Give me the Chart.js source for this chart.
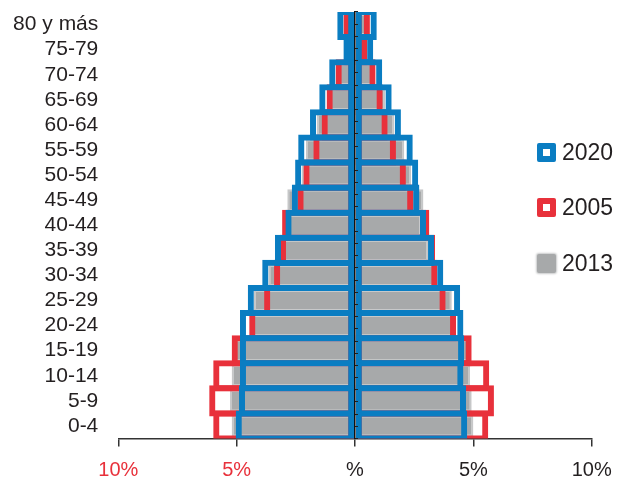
<!DOCTYPE html>
<html>
<head>
<meta charset="utf-8">
<script src="https://cdn.jsdelivr.net/npm/chart.js@4.4.1/dist/chart.umd.min.js"></script>
<style>
  body { margin: 0; background: #fff; }
  #wrap { position: relative; width: 629px; height: 483px; }
  .key { position: absolute; left: 537px; font: 23px "Liberation Sans", Arial, sans-serif; color: #231f20; }
  .key span { position: absolute; left: 0; width: 19px; height: 19px; box-sizing: border-box; border-radius: 2px; }
  .key b { position: absolute; left: 25px; top: -2px; font-weight: normal; line-height: 23px; }
</style>
</head>
<body>
<div id="wrap">
  <canvas id="chart"></canvas>
  <div class="key" style="top:143px"><span style="border:6px solid #0a7dc2;background:#fff"></span><b>2020</b></div>
  <div class="key" style="top:198px"><span style="border:6px solid #e8313b;background:#fff"></span><b>2005</b></div>
  <div class="key" style="top:254px"><span style="background:#a7a9aa;box-shadow:0 0 2px 1px #c8c9ca"></span><b>2013</b></div>
</div>
<script>
// age groups, top to bottom
const ages = ["80 y más", "75-79", "70-74", "65-69", "60-64", "55-59", "50-54", "45-49",
  "40-44", "35-39", "30-34", "25-29", "20-24", "15-19", "10-14", "5-9", "0-4"];

// % of population, left and right half of the pyramid
const left2020 = [0.75, 0.49, 1.09, 1.51, 1.90, 2.40, 2.53, 2.67, 2.94, 3.38, 3.92, 4.53, 4.86, 4.86, 4.86, 4.90, 5.04];
const right2020 = [0.92, 0.77, 1.15, 1.55, 1.94, 2.44, 2.67, 2.72, 3.00, 3.34, 3.73, 4.44, 4.58, 4.61, 4.58, 4.69, 4.74];
const left2005 = [0.49, 0.42, 0.82, 1.20, 1.41, 1.76, 2.18, 2.43, 3.08, 3.17, 3.42, 3.84, 4.47, 5.21, 5.99, 6.16, 5.99];
const right2005 = [0.63, 0.52, 0.87, 1.17, 1.38, 1.73, 2.15, 2.46, 3.14, 3.38, 3.48, 3.83, 4.27, 4.93, 5.67, 5.87, 5.63];
const left2013 = [0.39, 0.42, 0.72, 1.15, 1.62, 2.07, 2.24, 2.86, 2.85, 3.05, 3.66, 4.27, 4.40, 5.10, 5.21, 5.28, 5.21];
const right2013 = [0.50, 0.47, 0.76, 1.27, 1.66, 2.08, 2.37, 2.89, 2.80, 3.10, 3.45, 4.09, 4.20, 4.85, 4.86, 4.93, 5.00];

const xTickValues = [-10, -5, 0, 5, 10];
const xTickLabels = ["10%", "5%", "%", "5%", "10%"];

const blue = "#0a7dc2";
const red = "#e8313b";
const gray = "#a7a9aa";
const font = "'Liberation Sans', Arial, sans-serif";

const outline = (data, color) => ({
  data,
  backgroundColor: "rgba(0,0,0,0)",
  borderColor: color,
  borderWidth: 6,
  borderSkipped: false,
  barPercentage: 1.24,
  categoryPercentage: 1,
  grouped: false,
});
const filled = (data) => ({
  data,
  backgroundColor: gray,
  borderColor: "#c6c7c8",
  borderWidth: 2,
  borderSkipped: false,
  barPercentage: 0.86,
  categoryPercentage: 1,
  grouped: false,
});

// first dataset is drawn on top
const datasets = [
  outline(left2020.map(v => -v), blue),
  outline(right2020, blue),
  outline(left2005.map(v => -v), red),
  outline(right2005, red),
  filled(left2013.map(v => -v)),
  filled(right2013),
];

// keep the plot box where the reference has it
const noPad = s => { s.paddingTop = 0; s.paddingBottom = 0; s.paddingLeft = 0; s.paddingRight = 0; };

new Chart(document.getElementById("chart"), {
  type: "bar",
  data: { labels: ages, datasets },
  options: {
    indexAxis: "y",
    responsive: true,
    maintainAspectRatio: false,
    animation: false,
    layout: { padding: { top: 12, right: 37.3, bottom: 0, left: 0 } },
    plugins: { legend: { display: false }, tooltip: { enabled: false } },
    scales: {
      x: {
        min: -10,
        max: 10,
        afterBuildTicks: s => { s.ticks = xTickValues.map(v => ({ value: v })); },
        afterFit: s => { s.height = 44.5; },
        grid: { drawOnChartArea: false, drawTicks: true, tickLength: 8, color: "#333", lineWidth: 1.5 },
        border: { display: true, color: "#333", width: 1.5 },
        ticks: {
          padding: 12,
          font: { family: font, size: 20 },
          color: c => (c.tick.value < 0 ? red : "#231f20"),
          callback: v => xTickLabels[xTickValues.indexOf(v)],
        },
      },
      y: {
        position: "left",
        afterFit: s => { s.width = 118.3; noPad(s); },
        grid: { display: false },
        border: { display: false },
        ticks: { autoSkip: false, padding: 12, font: { family: font, size: 21 }, color: "#231f20" },
      },
      yc: {
        axis: "y",
        type: "linear",
        position: { x: 0 },
        min: 0,
        max: 17,
        afterFit: noPad,
        ticks: { display: false, stepSize: 0.5 },
        grid: { drawOnChartArea: false, drawTicks: true, tickLength: -4, color: "#222", z: 1 },
        border: { display: true, color: "#111", width: 1.5, z: 1 },
      },
    },
  },
});
</script>
</body>
</html>
